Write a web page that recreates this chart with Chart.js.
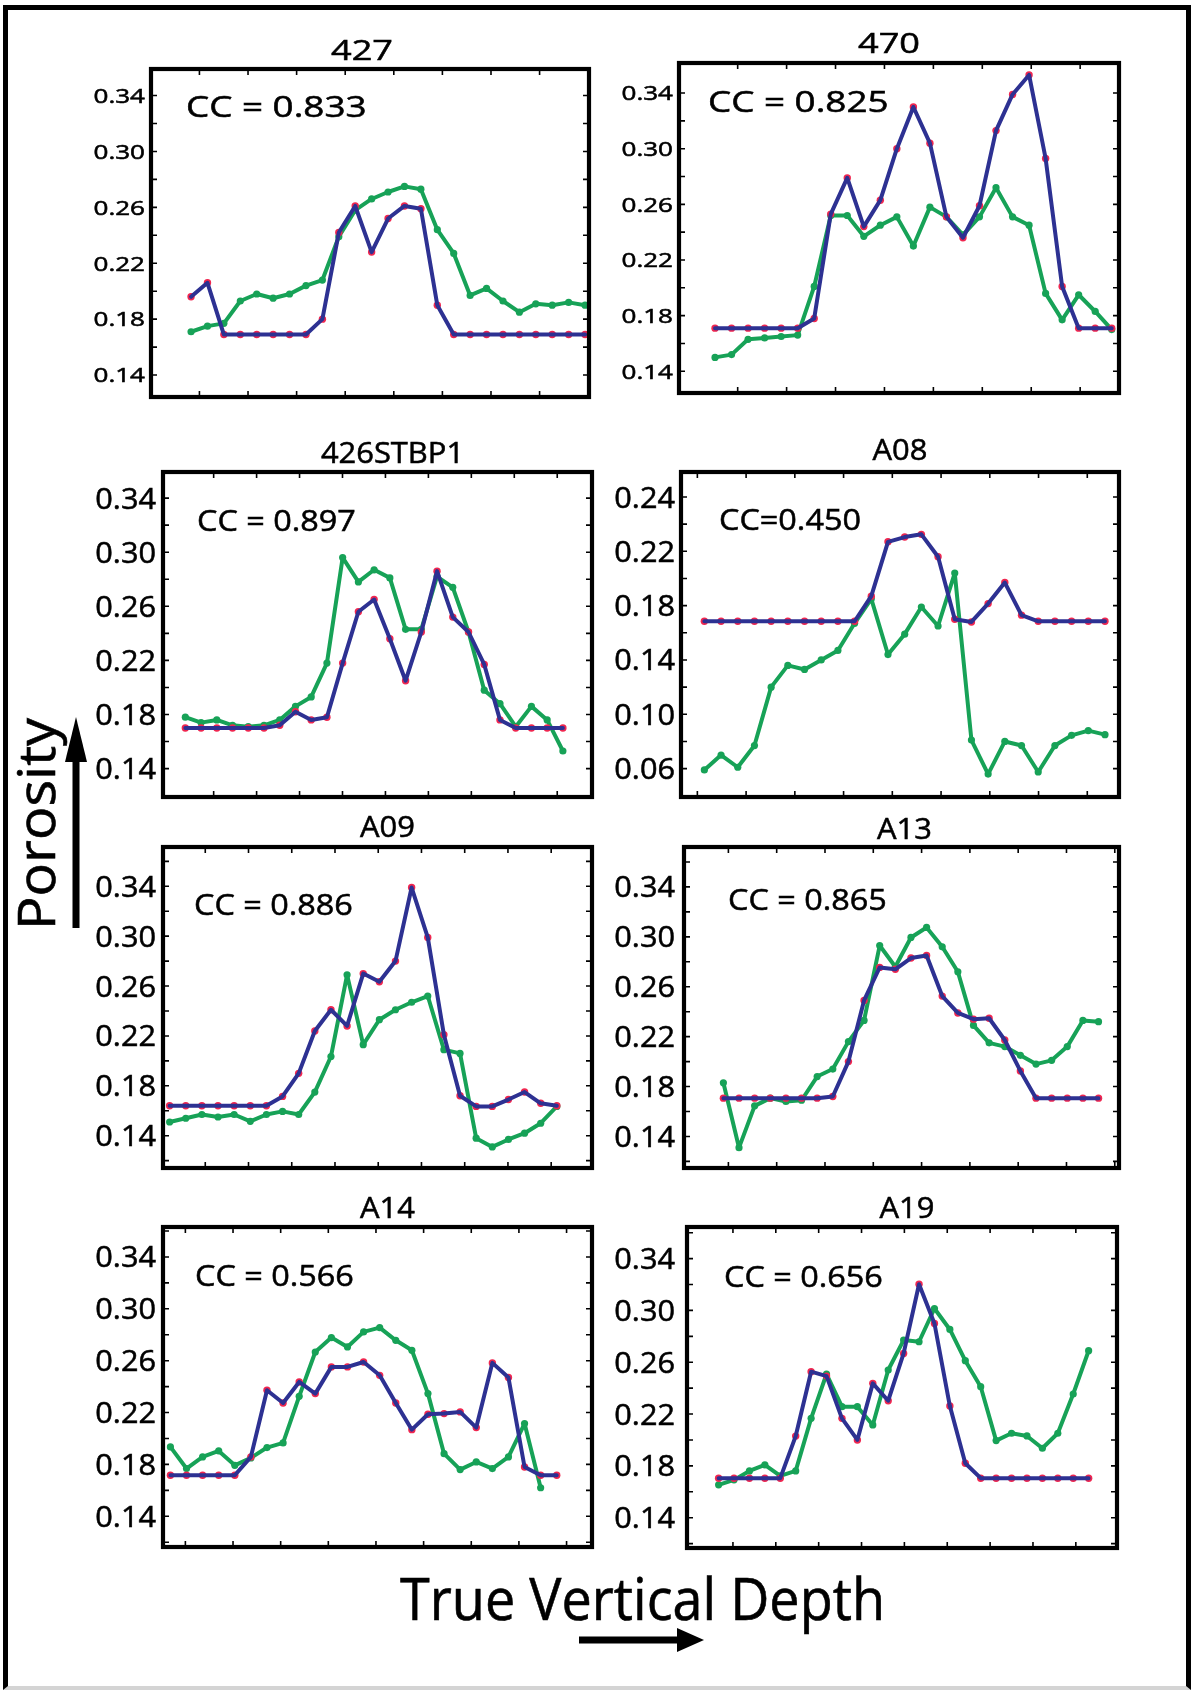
<!DOCTYPE html>
<html>
<head>
<meta charset="utf-8">
<script src="https://cdn.jsdelivr.net/npm/chart.js@4.4.1/dist/chart.umd.min.js"></script>
<style>
  html, body { margin: 0; padding: 0; background: #fff; }
  body { width: 1193px; height: 1690px; position: relative; overflow: hidden; font-family: "Open Sans", sans-serif; }
  .frame { position: absolute; left: 3px; top: 5px; width: 1188px; height: 1685px; box-sizing: border-box;
           border-left: 5px solid #000; border-top: 5px solid #000; border-right: 5px solid #000; border-bottom: 4px solid #d4d4d4; }
  canvas { position: absolute; }
  svg { position: absolute; left: 0; top: 0; }
</style>
</head>
<body>
<div class="frame"></div>
<svg width="1193" height="1690" viewBox="0 0 1193 1690">
  <text x="55" y="930" transform="rotate(-90 55 930)" font-family="Open Sans" font-size="51" textLength="212" lengthAdjust="spacingAndGlyphs" fill="#000" stroke="#000" stroke-width="0.6">Porosity</text>
  <rect x="72.5" y="755" width="7" height="173" fill="#000"/>
  <polygon points="65,762 87,762 76,717" fill="#000"/>
  <text x="400" y="1620" font-family="Open Sans" font-size="58" textLength="485" lengthAdjust="spacingAndGlyphs" fill="#000" stroke="#000" stroke-width="0.6">True Vertical Depth</text>
  <rect x="579" y="1636.5" width="100" height="7" fill="#000"/>
  <polygon points="677,1628 677,1652 704,1640" fill="#000"/>
</svg>
<div id="charts"></div>
<script>
// ---------------- DATA ----------------
const panelNames = ["427", "470", "426STBP1", "A08", "A09", "A13", "A14", "A19"];
const ccTexts = ["CC = 0.833", "CC = 0.825", "CC = 0.897", "CC=0.450", "CC = 0.886", "CC = 0.865", "CC = 0.566", "CC = 0.656"];
const depthSamples = [0, 1, 2, 3, 4, 5, 6, 7, 8, 9, 10, 11, 12, 13, 14, 15, 16, 17, 18, 19, 20, 21, 22, 23, 24];

const yTickValues = [0.14, 0.18, 0.22, 0.26, 0.30, 0.34];
const yTickLabels = ["0.14", "0.18", "0.22", "0.26", "0.30", "0.34"];
const yTickValuesA08 = [0.06, 0.10, 0.14, 0.18, 0.22, 0.26];
const yTickLabelsA08 = ["0.06", "0.10", "0.14", "0.18", "0.22", "0.24"];

// blue (with red markers) and green series, per well
const blue427  = [0.196,0.206,0.169,0.169,0.169,0.169,0.169,0.169,0.180,0.242,0.261,0.228,0.252,0.261,0.259,0.190,0.169,0.169,0.169,0.169,0.169,0.169,0.169,0.169,0.169];
const green427 = [0.171,0.175,0.177,0.193,0.198,0.195,0.198,0.204,0.208,0.239,0.258,0.266,0.271,0.275,0.273,0.244,0.227,0.197,0.202,0.193,0.185,0.191,0.190,0.192,0.190];

const blue470  = [0.171,0.171,0.171,0.171,0.171,0.171,0.178,0.253,0.279,0.244,0.263,0.300,0.330,0.304,0.251,0.236,0.259,0.313,0.339,0.353,0.293,0.201,0.171,0.171,0.171];
const green470 = [0.150,0.152,0.163,0.164,0.165,0.166,0.201,0.252,0.252,0.237,0.245,0.251,0.230,0.258,0.251,0.238,0.251,0.272,0.251,0.245,0.196,0.177,0.195,0.183,0.170];

const blue426  = [0.170,0.170,0.170,0.170,0.170,0.170,0.172,0.182,0.176,0.178,0.218,0.256,0.265,0.236,0.205,0.241,0.286,0.252,0.241,0.217,0.176,0.170,0.170,0.170,0.170];
const green426 = [0.178,0.174,0.176,0.172,0.171,0.172,0.176,0.186,0.193,0.218,0.296,0.278,0.287,0.281,0.243,0.243,0.282,0.274,0.241,0.198,0.188,0.171,0.186,0.176,0.153];

const blueA08  = [0.1685,0.1685,0.1685,0.1685,0.1685,0.1685,0.1685,0.1685,0.1685,0.1685,0.187,0.227,0.2305,0.2325,0.216,0.170,0.168,0.1815,0.197,0.173,0.1685,0.1685,0.1685,0.1685,0.1685];
const greenA08 = [0.059,0.070,0.061,0.077,0.120,0.136,0.133,0.140,0.147,0.167,0.185,0.144,0.159,0.179,0.165,0.204,0.081,0.056,0.080,0.077,0.0575,0.077,0.0845,0.088,0.085];

const blueA09  = [0.164,0.164,0.164,0.164,0.164,0.164,0.164,0.1715,0.190,0.224,0.241,0.228,0.270,0.2635,0.280,0.339,0.299,0.221,0.172,0.1635,0.1635,0.169,0.175,0.166,0.164];
const greenA09 = [0.151,0.154,0.157,0.155,0.157,0.1515,0.157,0.1595,0.157,0.175,0.2035,0.269,0.213,0.233,0.241,0.247,0.252,0.209,0.206,0.138,0.131,0.137,0.142,0.150,0.1635];

const blueA13  = [0.1707,0.1707,0.1707,0.1707,0.1707,0.1707,0.1707,0.172,0.200,0.249,0.2755,0.274,0.283,0.285,0.2525,0.239,0.234,0.2347,0.2173,0.1925,0.1707,0.1707,0.1707,0.1707,0.1707];
const greenA13 = [0.183,0.131,0.1645,0.1707,0.168,0.169,0.188,0.194,0.216,0.233,0.293,0.276,0.2995,0.3075,0.292,0.272,0.229,0.215,0.212,0.205,0.198,0.201,0.212,0.233,0.232];

const blueA14  = [0.1716,0.1716,0.1716,0.1716,0.1716,0.1858,0.2372,0.2274,0.2436,0.2346,0.2552,0.2552,0.259,0.2487,0.2274,0.2068,0.2187,0.2192,0.2205,0.2084,0.2583,0.247,0.178,0.1716,0.1716];
const greenA14 = [0.1935,0.1768,0.1858,0.1904,0.1793,0.185,0.193,0.1966,0.2325,0.2667,0.2778,0.2706,0.2822,0.2855,0.2757,0.268,0.2346,0.1883,0.176,0.1819,0.1768,0.1858,0.2115,0.162];

const blueA19  = [0.1705,0.1705,0.1705,0.1705,0.1705,0.203,0.2527,0.2493,0.2167,0.200,0.2437,0.2303,0.2668,0.3202,0.2899,0.2262,0.182,0.1705,0.1705,0.1705,0.1705,0.1705,0.1705,0.1705,0.1705];
const greenA19 = [0.1654,0.1692,0.1761,0.1808,0.1723,0.1761,0.2167,0.2509,0.2257,0.2257,0.2116,0.254,0.2771,0.2758,0.3015,0.2853,0.2612,0.2411,0.1995,0.2052,0.2031,0.1936,0.2052,0.2355,0.2689];

const blueSeries  = [blue427, blue470, blue426, blueA08, blueA09, blueA13, blueA14, blueA19];
const greenSeries = [green427, green470, green426, greenA08, greenA09, greenA13, greenA14, greenA19];

// ---------------- LAYOUT (positions / sizes / styles) ----------------
const layout = [
  {f:[151,69,589,397],   y:[0.1243,0.359],  x:[-2.44,24.24], xt:[0.51,2.96],  t:[-8,9],  cc:[35,48], row:1, gap:6},
  {f:[679,63,1119,393],  y:[0.1244,0.3616], x:[-2.18,24.44], xt:[1.37,2.96],  t:[-10,10],cc:[29,49], row:1, gap:6},
  {f:[163,472,592,797],  y:[0.119,0.3593],  x:[-1.42,25.85], xt:[1.8,2.73],   t:[15,9],  cc:[34,59], row:2, gap:7},
  {f:[681,472,1119,797], y:[0.0391,0.2784], x:[-1.40,24.84], xt:[-0.42,2.92], t:[0,12],  cc:[38,58], row:2, gap:6},
  {f:[163,847,592,1168], y:[0.1141,0.3715], x:[-0.41,26.18], xt:[2.21,2.68],  t:[10,10], cc:[31,68], row:2, gap:7},
  {f:[684,847,1119,1168],y:[0.1147,0.372],  x:[-2.52,25.31], xt:[0.32,3.09],  t:[3,8],   cc:[44,63], row:2, gap:9},
  {f:[163,1227,592,1547],y:[0.1163,0.3631], x:[-0.46,26.19], xt:[0.93,2.96],  t:[10,9],  cc:[32,59], row:2, gap:7},
  {f:[687,1227,1117,1548],y:[0.1166,0.3644],x:[-2.05,25.84], xt:[0.93,2.78],  t:[5,9],   cc:[37,60], row:2, gap:12}
];
const rowFonts = {
  1: {label:20.5, labelSx:1.27, title:28, titleSx:1.29, cc:29, ccSx:1.27},
  2: {label:29.5, labelSx:1.04, title:30, titleSx:1.03, cc:30, ccSx:1.08}
};
const COLOR_BLUE = "#2d3192", COLOR_GREEN = "#17a257", COLOR_RED = "#f0264f";
const FONT = '"Open Sans", sans-serif';
const PAD = {left:100, top:62, right:10, bottom:10};

function drawText(ctx, text, x, y, size, sx, align) {
  ctx.save();
  ctx.font = size + "px " + FONT;
  ctx.fillStyle = "#000";
  ctx.strokeStyle = "#000";
  ctx.lineWidth = 0.55;
  ctx.textBaseline = "alphabetic";
  const w = ctx.measureText(text).width * sx;
  let x0 = x;
  if (align === "right") x0 = x - w;
  else if (align === "center") x0 = x - w / 2;
  ctx.translate(x0, y);
  ctx.scale(sx, 1);
  ctx.textAlign = "left";
  ctx.fillText(text, 0, 0);
  ctx.strokeText(text, 0, 0);
  ctx.restore();
}

const framePlugin = {
  id: "panelFrame",
  afterDatasetsDraw(chart, args, opts) {
    const {ctx, chartArea: a} = chart;
    const xs = chart.scales.x, ys = chart.scales.y;
    const p = opts.panel;
    const fonts = rowFonts[p.lay.row];
    ctx.save();
    ctx.strokeStyle = "#000";
    ctx.lineWidth = 1.6;
    const tl = 6;
    // y ticks (every 0.02)
    const k0 = Math.ceil(ys.min / 0.02 - 1e-6), k1 = Math.floor(ys.max / 0.02 + 1e-6);
    for (let k = k0; k <= k1; k++) {
      const py = ys.getPixelForValue(k * 0.02);
      if (py < a.top + 4 || py > a.bottom - 4) continue;
      ctx.beginPath();
      ctx.moveTo(a.left, py); ctx.lineTo(a.left + tl, py);
      ctx.moveTo(a.right, py); ctx.lineTo(a.right - tl, py);
      ctx.stroke();
    }
    // x ticks
    for (let k = 0; k < 40; k++) {
      const v = p.lay.xt[0] + k * p.lay.xt[1];
      if (v > xs.max) break;
      const px = xs.getPixelForValue(v);
      if (px < a.left + 4 || px > a.right - 4) continue;
      ctx.beginPath();
      ctx.moveTo(px, a.top); ctx.lineTo(px, a.top + tl);
      ctx.moveTo(px, a.bottom); ctx.lineTo(px, a.bottom - tl);
      ctx.stroke();
    }
    // frame
    ctx.lineWidth = 4.2;
    ctx.strokeRect(a.left, a.top, a.right - a.left, a.bottom - a.top);
    ctx.restore();
    // y labels
    p.tickValues.forEach((v, i) => {
      const py = ys.getPixelForValue(v);
      drawText(ctx, p.tickLabels[i], a.left - p.lay.gap, py + 0.357 * fonts.label, fonts.label, fonts.labelSx, "right");
    });
    // title
    drawText(ctx, p.name, (a.left + a.right) / 2 + p.lay.t[0], a.top - p.lay.t[1], fonts.title, fonts.titleSx, "center");
    // CC
    drawText(ctx, p.cc, a.left + p.lay.cc[0], a.top + p.lay.cc[1], fonts.cc, fonts.ccSx, "left");
  }
};

function toPoints(values) {
  return values.map((v, i) => ({x: depthSamples[i], y: v}));
}

function build() {
  const host = document.getElementById("charts");
  panelNames.forEach((name, idx) => {
    const lay = layout[idx];
    const [L, T, R, B] = lay.f;
    const cv = document.createElement("canvas");
    const w = R - L + PAD.left + PAD.right, h = B - T + PAD.top + PAD.bottom;
    cv.width = w; cv.height = h;
    cv.style.left = (L - PAD.left) + "px";
    cv.style.top = (T - PAD.top) + "px";
    cv.style.width = w + "px"; cv.style.height = h + "px";
    host.appendChild(cv);
    const isA08 = name === "A08";
    const panel = {
      name, cc: ccTexts[idx], lay,
      tickValues: isA08 ? yTickValuesA08 : yTickValues,
      tickLabels: isA08 ? yTickLabelsA08 : yTickLabels
    };
    new Chart(cv.getContext("2d"), {
      type: "line",
      data: {
        datasets: [
          { label: "blue line", data: toPoints(blueSeries[idx]), borderColor: COLOR_BLUE, borderWidth: 4,
            pointRadius: 0, tension: 0, fill: false, borderJoinStyle: "round", borderCapStyle: "round" },
          { label: "red markers", data: toPoints(blueSeries[idx]), showLine: false, pointRadius: 3.7,
            pointBackgroundColor: COLOR_RED, pointBorderColor: COLOR_RED, pointBorderWidth: 0 },
          { label: "green", data: toPoints(greenSeries[idx]), borderColor: COLOR_GREEN, borderWidth: 4,
            pointRadius: 3.6, pointBackgroundColor: COLOR_GREEN, pointBorderColor: COLOR_GREEN, pointBorderWidth: 0,
            tension: 0, fill: false, borderJoinStyle: "round", borderCapStyle: "round" }
        ]
      },
      options: {
        responsive: false, animation: false, devicePixelRatio: 1, events: [],
        layout: { padding: PAD },
        scales: {
          x: { type: "linear", min: lay.x[0], max: lay.x[1], display: false },
          y: { type: "linear", min: lay.y[0], max: lay.y[1], display: false }
        },
        plugins: { legend: { display: false }, tooltip: { enabled: false }, title: { display: false },
                   panelFrame: { panel } }
      },
      plugins: [framePlugin]
    });
  });
}
if (document.fonts && document.fonts.load) {
  Promise.all([document.fonts.load('20px "Open Sans"')]).then(build, build);
} else { build(); }
</script>
</body>
</html>
